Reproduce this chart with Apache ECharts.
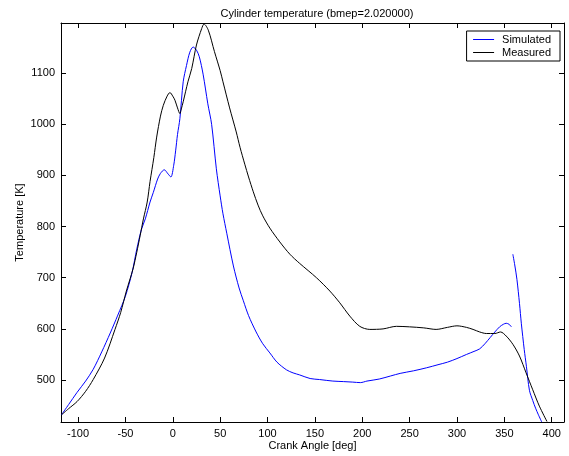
<!DOCTYPE html>
<html>
<head>
<meta charset="utf-8">
<title>Cylinder temperature</title>
<script src="https://cdn.jsdelivr.net/npm/echarts@6/dist/echarts.min.js"></script>
<style>
  html, body { margin: 0; padding: 0; background: #fff; }
  #chart { width: 569px; height: 456px; }
</style>
</head>
<body>
<div id="chart"></div>
<script>
// Crank angle [deg] and temperature [K] for the simulated trace (null = gap in the trace)
const simAngle = [-117.5, -110, -101, -92, -84, -75, -66, -58, -50, -43, -38, -33, -29, -24, -20.5, -16, -13, -9, -5, -2, 1, 3, 5, 7.5, 11, 14.5, 18, 21.5, 25, 28, 32, 37, 41, 46, 50, 53, 57, 64, 70, 74.5, 80, 88, 95, 102.5, 110, 120, 127, 134, 145, 155, 169, 180, 190, 198, 205, 218, 230, 240, 254, 268, 280, 290, 300, 310, 318, 324, 330, 335, 340, 345, 349, 352, 355, 357.5, 358.2, 359, 361, 363.3, 366, 368, 371, 373.3, 376.5, 380, 383, 386, 389.5];
const simTemp  = [432, 452, 476, 498, 521, 555, 592, 627, 664, 710, 756, 795, 815, 848, 867, 893, 904, 911, 903, 897, 920, 948, 980, 1011, 1083, 1115, 1141, 1151, 1145, 1132, 1098, 1040, 1000, 913, 860, 825, 787, 723, 680, 655, 626, 594, 571, 553, 535, 520, 514, 510, 503, 501, 498, 497, 496, 495, 498, 502, 508, 513, 518, 524, 530, 535, 542, 550, 556, 561, 572, 583, 594, 604, 609, 611, 609, 604, null, 746, 725, 697, 650, 610, 560, 527, 480, 460, 445, 432, 418];

// Crank angle [deg] and temperature [K] for the measured trace
const measAngle = [-117.5, -110, -101, -92, -84, -72, -61, -55, -49, -42, -38, -34.5, -31, -27, -24, -20, -17, -13, -10, -6, -3, 0, 2.3, 5, 7.5, 9, 11, 16, 20, 25, 30.5, 33, 37.5, 44, 50, 53, 60, 67, 71, 76, 80, 85, 90, 95, 102.5, 113, 123.6, 134, 151.7, 165.8, 176.3, 186.9, 197.4, 208, 222, 236, 250, 265, 278, 290, 300, 310, 317, 324, 331, 340, 346, 352, 359, 366, 373, 380, 387, 395];
const measTemp  = [432, 444, 458, 478, 501, 543, 599, 632, 674, 717, 750, 782, 815, 848, 888, 935, 975, 1016, 1037, 1055, 1062, 1055, 1047, 1032, 1021, 1030, 1044, 1083, 1109, 1155, 1187, 1196, 1184, 1142, 1105, 1083, 1032, 985, 955, 922, 897, 868, 842, 821, 797, 770, 746, 728, 700, 674, 651, 625, 605, 599, 600, 605, 604, 602, 599, 603, 606, 603, 599, 594, 591, 591, 594, 586, 570, 547, 514, 481, 449, 419];

// Tick positions on both axes
const angleTicks = [-100, -50, 0, 50, 100, 150, 200, 250, 300, 350, 400];
const tempTicks = [500, 600, 700, 800, 900, 1000, 1100];

const toPairs = (xs, ys) => xs.map((x, i) => [x, ys[i] == null ? '-' : ys[i]]);

const FONT = 'Liberation Sans, Arial, sans-serif';
const X_RANGE = { min: -118, max: 413 };
const Y_RANGE = { min: 418, max: 1198 };
const BLUE = '#0000ff';
const BLACK = '#000000';

const boxAxisLine = { show: true, onZero: false, lineStyle: { color: BLACK, width: 1 } };
const inTick = (vals) => ({ show: true, inside: true, length: 5, customValues: vals, lineStyle: { color: BLACK, width: 1 } });
const plain = (v) => String(v);

const chart = echarts.init(document.getElementById('chart'), null, { renderer: 'canvas' });
chart.setOption({
  animation: false,
  backgroundColor: '#fff',
  title: {
    text: 'Cylinder temperature (bmep=2.020000)',
    left: 312, top: 3, textAlign: 'center',
    textStyle: { fontFamily: FONT, fontSize: 11, fontWeight: 'normal', color: BLACK }
  },
  legend: {
    orient: 'vertical',
    right: 9, top: 31,
    backgroundColor: '#fff',
    borderColor: BLACK, borderWidth: 1,
    padding: [3, 9, 3, 6],
    itemGap: 2,
    itemWidth: 21, itemHeight: 10,
    itemStyle: { opacity: 0 },
    textStyle: { fontFamily: FONT, fontSize: 11, color: BLACK, padding: [0, 0, 0, 3] },
    data: [
      { name: 'Simulated', lineStyle: { color: BLUE, width: 1 } },
      { name: 'Measured', lineStyle: { color: BLACK, width: 1 } }
    ]
  },
  grid: { left: 61, right: 5, top: 23, bottom: 34, containLabel: false },
  xAxis: [{
    type: 'value', ...X_RANGE,
    name: 'Crank Angle [deg]', nameLocation: 'middle', nameGap: 18,
    nameMoveOverlap: false,
    nameTextStyle: { fontFamily: FONT, fontSize: 11, color: BLACK },
    axisLine: boxAxisLine,
    axisTick: inTick(angleTicks),
    axisLabel: { customValues: angleTicks, formatter: plain, margin: 6, fontFamily: FONT, fontSize: 11, color: BLACK },
    splitLine: { show: false }
  }, {
    type: 'value', position: 'top', ...X_RANGE,
    axisLine: boxAxisLine,
    axisTick: inTick(angleTicks),
    axisLabel: { show: false },
    splitLine: { show: false }
  }],
  yAxis: [{
    type: 'value', ...Y_RANGE,
    name: 'Temperature [K]', nameLocation: 'middle', nameGap: 36, nameRotate: 90,
    nameMoveOverlap: false,
    nameTextStyle: { fontFamily: FONT, fontSize: 11, color: BLACK },
    axisLine: boxAxisLine,
    axisTick: inTick(tempTicks),
    axisLabel: { customValues: tempTicks, formatter: plain, margin: 6, fontFamily: FONT, fontSize: 11, color: BLACK },
    splitLine: { show: false }
  }, {
    type: 'value', position: 'right', ...Y_RANGE,
    axisLine: boxAxisLine,
    axisTick: inTick(tempTicks),
    axisLabel: { show: false },
    splitLine: { show: false }
  }],
  series: [{
    name: 'Simulated', type: 'line',
    data: toPairs(simAngle, simTemp),
    showSymbol: false, symbol: 'none',
    smooth: 0.3,
    connectNulls: false,
    lineStyle: { color: BLUE, width: 1 },
    itemStyle: { color: BLUE },
    clip: true
  }, {
    name: 'Measured', type: 'line',
    data: toPairs(measAngle, measTemp),
    showSymbol: false, symbol: 'none',
    smooth: 0.3,
    lineStyle: { color: BLACK, width: 1 },
    itemStyle: { color: BLACK },
    clip: true
  }]
});
</script>
</body>
</html>
